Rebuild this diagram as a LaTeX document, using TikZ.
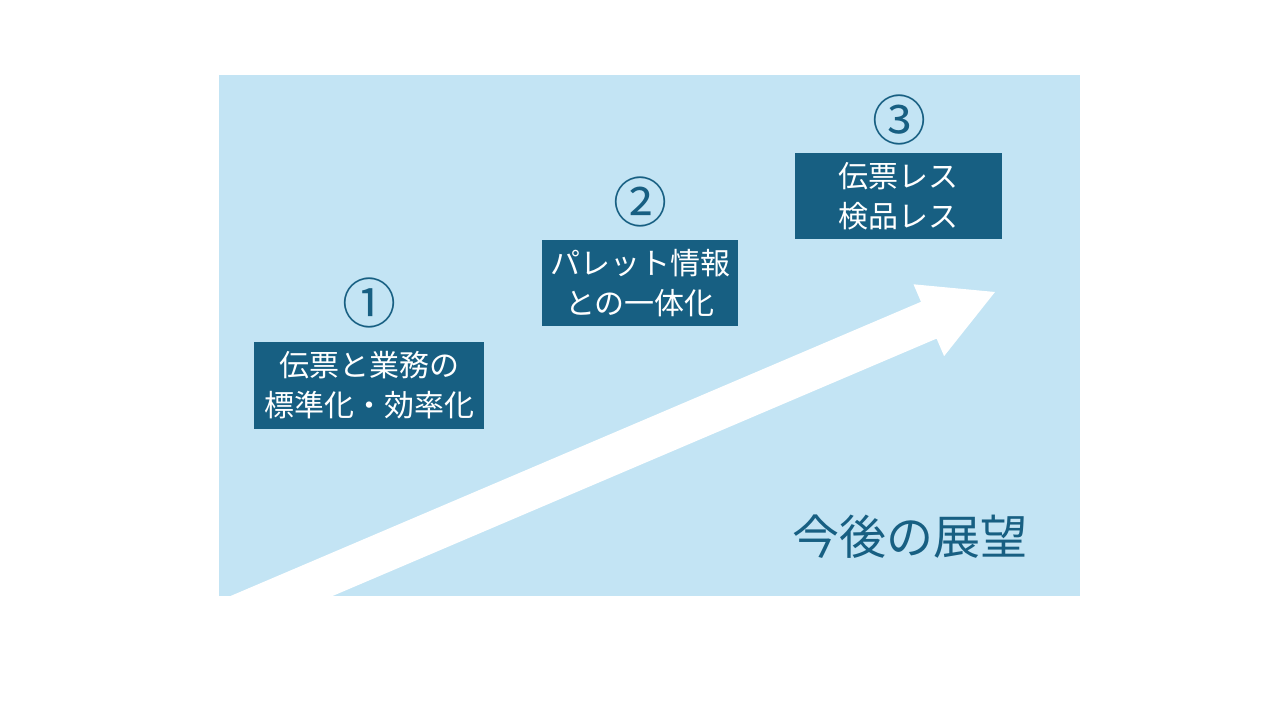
\documentclass[tikz,border=0pt]{standalone}
\usepackage{fontspec}
\setmainfont{Noto Sans CJK JP}
\newfontfamily\jpfont{Noto Sans CJK JP}
\definecolor{bgblue}{HTML}{C3E4F4}
\definecolor{darkblue}{HTML}{175F82}
\begin{document}
\begin{tikzpicture}[x=1pt,y=-1pt,
  stepbox/.style={fill=darkblue,text=white,align=center,inner sep=0pt,
    font=\jpfont\fontsize{30}{40}\selectfont},
  numlabel/.style={text=darkblue,inner sep=0pt,font=\jpfont\fontsize{54}{54}\selectfont},
  titlelabel/.style={text=darkblue,inner sep=0pt,font=\jpfont\fontsize{47}{47}\selectfont}]
\useasboundingbox (0,0) rectangle (1280,720);
\fill[white] (0,0) rectangle (1280,720);
\fill[bgblue] (219,75) rectangle (1080,596);
\begin{scope}
\clip (219,75) rectangle (1080,596);
\fill[white] (93,654.6) -- (921.0,301.8) -- (913.5,284.3) -- (995,292)
  -- (944.1,356.1) -- (936.6,338.6) -- (108.6,691.4) -- cycle;
\end{scope}
\node[stepbox,minimum width=230pt,minimum height=87pt] (b1) at (369,385.5) {伝票と業務の\\標準化・効率化};
\node[stepbox,minimum width=196pt,minimum height=86pt] (b2) at (640,283) {パレット情報\\との一体化};
\node[stepbox,minimum width=207pt,minimum height=86pt] (b3) at (898.5,196) {伝票レス\\検品レス};
\node[numlabel] (n1) at (369,303) {①};
\node[numlabel] (n2) at (640,202) {②};
\node[numlabel] (n3) at (899,120) {③};
\node[titlelabel] (title) at (910,537) {今後の展望};
\end{tikzpicture}
\end{document}
